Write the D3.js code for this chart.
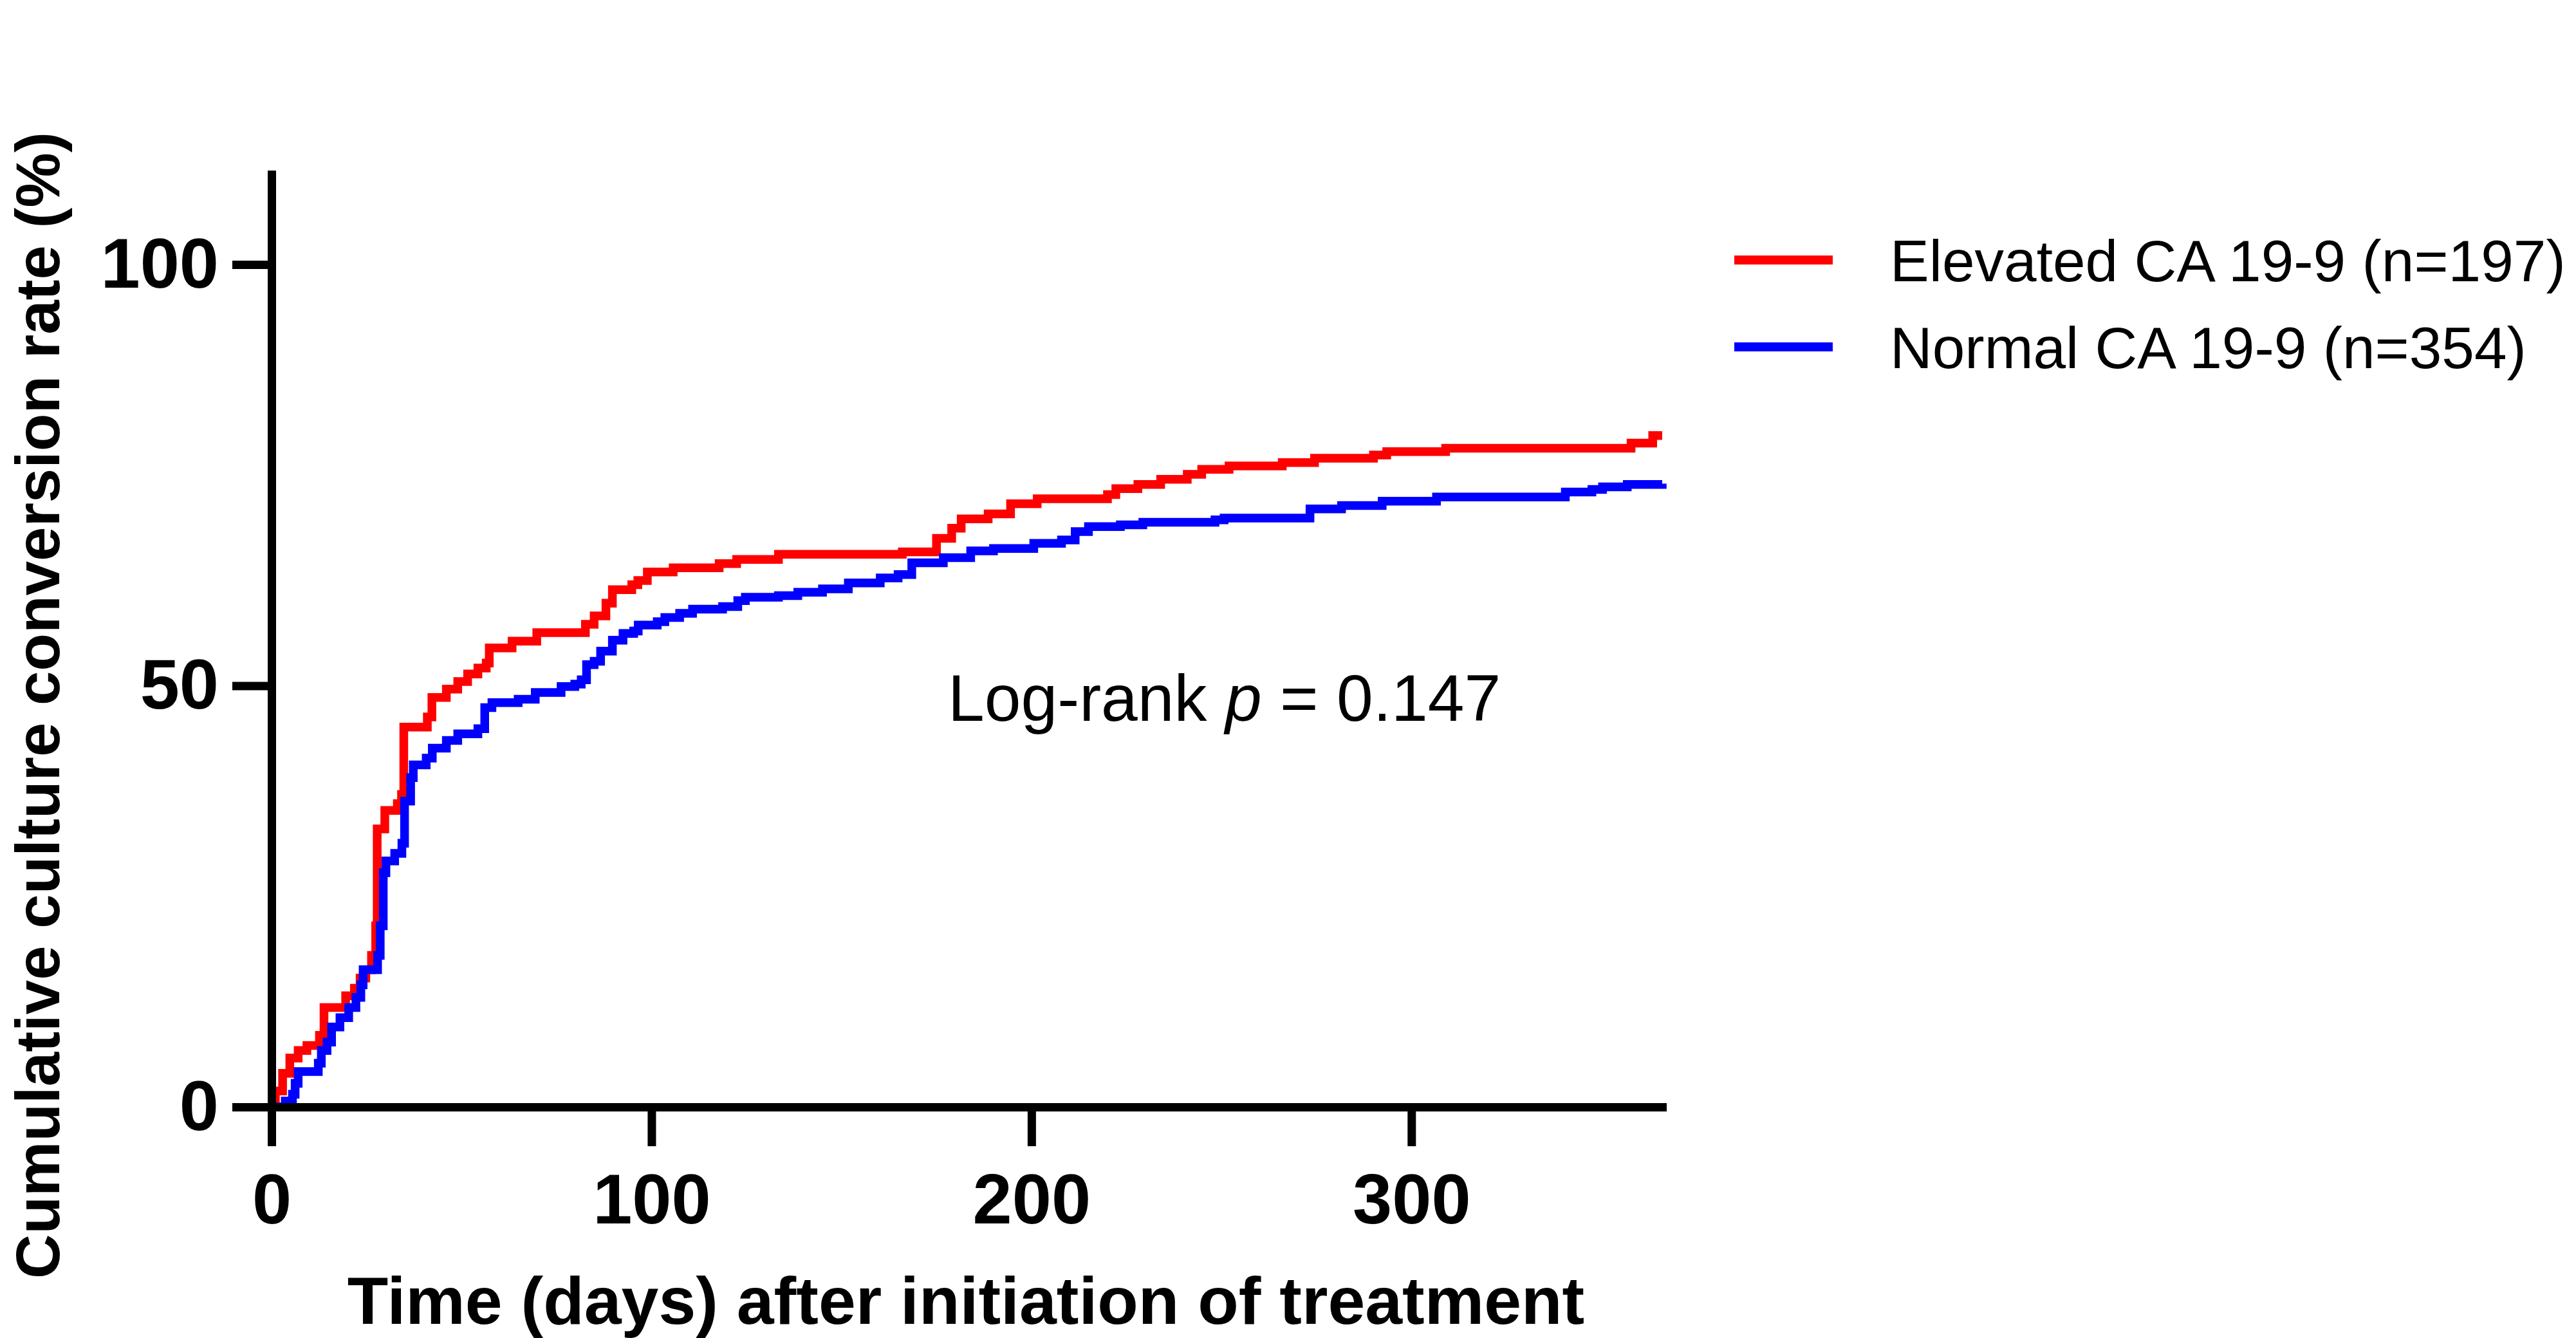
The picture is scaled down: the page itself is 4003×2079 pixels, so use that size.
<!DOCTYPE html>
<html>
<head>
<meta charset="utf-8">
<title>Cumulative culture conversion</title>
<script src="https://cdn.jsdelivr.net/npm/d3@7/dist/d3.min.js"></script>
<style>
  html, body { margin: 0; padding: 0; background: #fff; }
  svg { display: block; }
  .axis text { font-family: 'Liberation Sans', Arial, sans-serif; font-weight: bold; font-size: 110px; fill: #000; }
  .axis path, .axis line { stroke: #000; stroke-width: 13; }
  .title { font-family: 'Liberation Sans', Arial, sans-serif; font-weight: bold; font-size: 104px; fill: #000; }
  .label { font-family: 'Liberation Sans', Arial, sans-serif; fill: #000; }
</style>
</head>
<body>
<script>
// step points: [ day, cumulative % ]
var elevated = [
  [0, 0], [1, 1.9], [2.9, 4.0], [4.8, 5.8], [7, 6.7], [9.3, 7.3], [12.6, 8.5],
  [13.8, 11.8], [19.5, 13.2], [21.8, 14.1], [23.3, 15.3], [24.8, 16.3], [26.3, 18.0],
  [27.4, 21.5], [27.8, 33.0], [29.8, 35.2], [33.1, 36.0], [34.2, 37.1], [34.8, 45.1],
  [41, 46.3], [42.2, 48.6], [46, 49.6], [49, 50.5], [51.6, 51.4], [54.3, 52.1],
  [56.5, 52.7], [57.3, 54.5], [63.3, 55.3], [69.8, 56.3], [82.6, 57.3], [84.9, 58.3],
  [88, 59.8], [89.7, 61.4], [94.8, 62.0], [96.4, 62.5], [98.9, 63.5], [105.7, 64.0],
  [117.8, 64.5], [122.4, 65.0], [133.4, 65.6], [166, 65.9], [175, 67.5], [179, 68.7],
  [181.5, 69.8], [188.6, 70.4], [194.5, 71.6], [201.5, 72.2], [220, 72.7], [222.2, 73.4],
  [228, 73.9], [234, 74.5], [241, 75.1], [244.8, 75.7], [252, 76.1], [266, 76.5],
  [274.5, 77.0], [290, 77.4], [293.5, 77.8], [309, 78.2], [357.8, 78.8], [363.5, 79.7],
  [366, 79.7]
];

var normal = [
  [0, 0], [3.6, 0.7], [5.5, 1.5], [6.2, 2.8], [7, 4.2], [12.3, 5.2], [13.1, 6.7],
  [14.6, 7.7], [15.8, 9.5], [18, 10.6], [20.3, 11.8], [22.2, 13.0], [23.5, 14.5],
  [24.1, 16.3], [27.9, 18.0], [28.6, 21.5], [29.4, 27.8], [30.1, 29.2], [32.4, 30.1],
  [34.3, 31.3], [35, 36.3], [36.6, 39.1], [37.3, 40.6], [40.7, 41.4], [42.3, 42.6],
  [46, 43.5], [49, 44.3], [54.3, 44.9], [56.1, 47.4], [58, 48.0], [64.9, 48.4],
  [69.4, 49.2], [76.2, 49.9], [79.8, 50.2], [81.5, 50.7], [82.9, 52.5], [84.9, 52.9],
  [86.6, 54.1], [89.7, 55.4], [92.5, 56.2], [95.3, 56.5], [96.5, 57.2], [101.5, 57.6],
  [103.5, 58.1], [107.4, 58.6], [110.8, 59.1], [118.7, 59.4], [122.7, 60.1], [124.7, 60.5],
  [133.4, 60.7], [138.5, 61.1], [145, 61.5], [151.8, 62.2], [160.2, 62.8], [164.9, 63.2],
  [168.5, 64.6], [176.8, 65.2], [184, 66.0], [190, 66.3], [200.6, 66.9], [207.9, 67.3],
  [211.5, 68.3], [215, 68.9], [223.4, 69.1], [229.3, 69.4], [248.3, 69.7], [250.7, 69.9],
  [273.3, 71.0], [281.6, 71.4], [292.3, 71.9], [306.6, 72.4], [340.5, 73.0], [347.5, 73.3],
  [350.3, 73.6], [356.8, 73.9], [366, 74.0]
];

var xTicks = [0, 100, 200, 300],
    yTicks = [0, 50, 100],
    seriesNames = ['Elevated CA 19-9 (n=197)', 'Normal CA 19-9 (n=354)'],
    seriesColors = ['#ff0000', '#0000ff'],
    xTitle = 'Time (days) after initiation of treatment',
    yTitle = 'Cumulative culture conversion rate (%)';

var width  = 4003,
    height = 2079,

    x = d3.scaleLinear().domain( [0, 366] ).range( [422, 2583] ),
    y = d3.scaleLinear().domain( [0, 110.7] ).range( [1720, 271] ),

    svg = d3.select( 'body' ).append( 'svg' )
            .attr( 'width', width )
            .attr( 'height', height ),

    line = d3.line()
            .x( function( d ) { return x( d[0] ); } )
            .y( function( d ) { return y( d[1] ); } )
            .curve( d3.curveStepAfter );

svg.append( 'rect' )
   .attr( 'width', width )
   .attr( 'height', height )
   .attr( 'fill', '#fff' );

// curves first, axes drawn over them
svg.selectAll( '.curve' )
   .data( [elevated, normal] )
   .enter().append( 'path' )
   .attr( 'class', 'curve' )
   .attr( 'd', line )
   .attr( 'fill', 'none' )
   .attr( 'stroke', function( d, i ) { return seriesColors[i]; } )
   .attr( 'stroke-width', 13.5 )
   .attr( 'stroke-linejoin', 'miter' );

svg.append( 'g' )
   .attr( 'class', 'axis' )
   .attr( 'transform', 'translate(0,' + y( 0 ) + ')' )
   .call(
     d3.axisBottom( x )
       .tickValues( xTicks )
       .tickSizeInner( 61 )
       .tickSizeOuter( 0 )
       .tickPadding( 42 )
       .tickFormat( d3.format( 'd' ) )
   );

svg.append( 'g' )
   .attr( 'class', 'axis' )
   .attr( 'transform', 'translate(' + x( 0 ) + ',0)' )
   .call(
     d3.axisLeft( y )
       .tickValues( yTicks )
       .tickSizeInner( 61 )
       .tickSizeOuter( 0 )
       .tickPadding( 21 )
       .tickFormat( d3.format( 'd' ) )
   );

svg.selectAll( '.axis .domain' ).attr( 'stroke-linecap', 'square' );

svg.append( 'text' )
   .attr( 'class', 'title' )
   .attr( 'x', 1501 )
   .attr( 'y', 2057 )
   .attr( 'text-anchor', 'middle' )
   .text( xTitle );

svg.append( 'text' )
   .attr( 'class', 'title' )
   .attr( 'transform', 'translate(92,1096) rotate(-90)' )
   .attr( 'text-anchor', 'middle' )
   .style( 'font-size', '96px' )
   .text( yTitle );

var logRank = svg.append( 'text' )
   .attr( 'class', 'label' )
   .attr( 'x', 1473 )
   .attr( 'y', 1120 )
   .style( 'font-size', '102px' );

logRank.append( 'tspan' ).text( 'Log-rank ' );
logRank.append( 'tspan' ).style( 'font-style', 'italic' ).text( 'p' );
logRank.append( 'tspan' ).text( ' = 0.147' );

var legend = svg.selectAll( '.legend' )
   .data( seriesNames )
   .enter().append( 'g' )
   .attr( 'class', 'legend' )
   .attr( 'transform', function( d, i ) {
     return 'translate(0,' + ( 404 + i * 135 ) + ')';
   } );

legend.append( 'line' )
   .attr( 'x1', 2695 )
   .attr( 'x2', 2848 )
   .attr( 'stroke', function( d, i ) { return seriesColors[i]; } )
   .attr( 'stroke-width', 14 );

legend.append( 'text' )
   .attr( 'class', 'label' )
   .attr( 'x', 2937 )
   .attr( 'y', 33 )
   .style( 'font-size', '91px' )
   .text( function( d ) { return d; } );
</script>
</body>
</html>
